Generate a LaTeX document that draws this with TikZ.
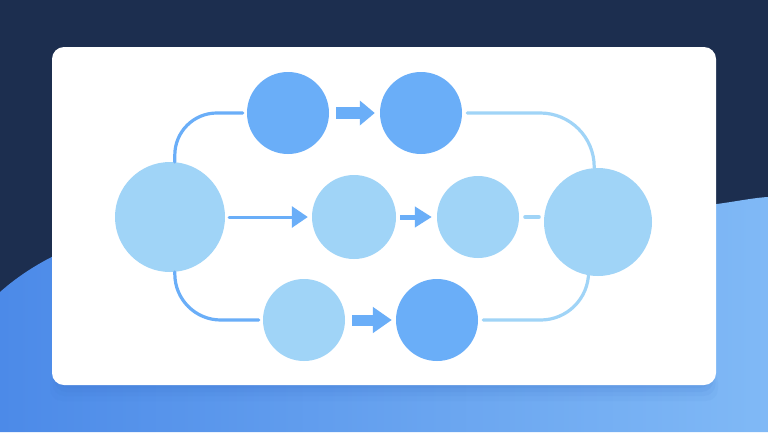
\documentclass[tikz,border=0pt]{standalone}
\usetikzlibrary{arrows.meta,calc}
\definecolor{navy}{HTML}{1C2E4F}
\definecolor{waveL}{HTML}{4C8AE8}
\definecolor{waveR}{HTML}{80B9F6}
\definecolor{darkc}{HTML}{6AAEF8}
\definecolor{lightc}{HTML}{A0D4F7}
\definecolor{shadowc}{HTML}{3A70C8}
\tikzset{
  dotc/.style={circle,fill=darkc,draw=none,inner sep=0pt,minimum size=82pt},
  litc/.style={circle,fill=lightc,draw=none,inner sep=0pt,minimum size=82pt},
  bigc/.style={circle,fill=lightc,draw=none,inner sep=0pt,minimum size=110pt},
  darkline/.style={draw=darkc,line width=3.2pt,line cap=round},
  lightline/.style={draw=lightc,line width=3.2pt,line cap=round},
}
\begin{document}
\begin{tikzpicture}[x=1pt,y=-1pt]
\useasboundingbox (0,0) rectangle (768,432);
\fill[navy] (0,0) rectangle (768,432);
% wave
\shade[left color=waveL,right color=waveR]
  (0,292) .. controls (70,230) and (180,208) .. (360,206)
  -- (700,206) .. controls (730,203) and (750,198) .. (768,197)
  -- (768,432) -- (0,432) -- cycle;
% card shadow (only below the card)
\foreach \s/\o in {16/0.05,11/0.07,7/0.09,3/0.1}{
  \fill[shadowc,opacity=\o,rounded corners=12pt] (58-\s/2,370) rectangle (710+\s/2,385+\s);
}
% card
\fill[white,rounded corners=12pt] (52,47) rectangle (716,385);
% nodes
\node[bigc] (A) at (170,217) {};
\node[dotc] (B1) at (288,113) {};
\node[dotc] (B2) at (421,113) {};
\node[litc,minimum size=84pt] (C1) at (354,217) {};
\node[litc] (C2) at (478,217) {};
\node[bigc,minimum size=108pt] (D) at (598,222) {};
\node[litc] (E1) at (304,320) {};
\node[dotc] (E2) at (437,320) {};
% connectors
\draw[darkline,rounded corners=42pt] (A.85) |- ($(B1.west)+(-4,0)$);
\draw[darkline,rounded corners=46pt] (A.-85) |- ($(E1.west)+(-4,0)$);
\draw[lightline,rounded corners=54pt] ($(B2.east)+(5,0)$) -| (D.94);
\draw[lightline,rounded corners=48pt] ($(E2.east)+(5,0)$) -| (D.-100);
\draw[lightline,line width=4pt,shorten <=6pt,shorten >=5pt] (C2.east) -- (C2.east -| D.west);
\draw[darkc,line width=3pt,line cap=round,shorten <=4pt,shorten >=4pt,-{Triangle[length=16pt,width=21pt]}] (A.east) -- (C1.west);
\draw[darkc,line width=5pt,shorten <=4pt,shorten >=5pt,-{Triangle[length=17pt,width=20pt]}] (C1.east) -- (C2.west);
\draw[darkc,line width=12pt,shorten <=7pt,shorten >=5pt,-{Triangle[length=15pt,width=24pt]}] (B1.east) -- (B2.west);
\draw[darkc,line width=11pt,shorten <=7pt,shorten >=4pt,-{Triangle[length=19pt,width=25pt]}] (E1.east) -- (E2.west);
\end{tikzpicture}
\end{document}
